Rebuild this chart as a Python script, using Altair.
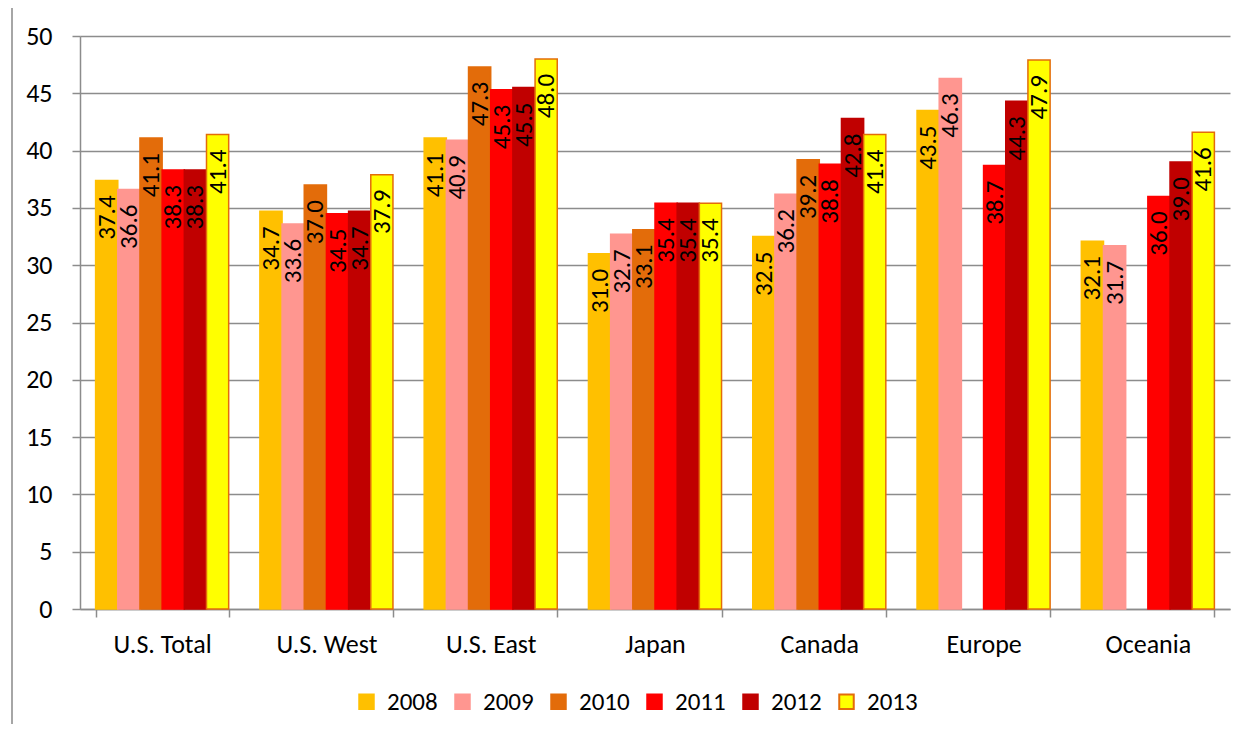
import altair as alt
import pandas as pd

categories = ["U.S. Total", "U.S. West", "U.S. East", "Japan", "Canada", "Europe", "Oceania"]
years = ["2008", "2009", "2010", "2011", "2012", "2013"]
values = {
    "2008": [37.4, 34.7, 41.1, 31.0, 32.5, 43.5, 32.1],
    "2009": [36.6, 33.6, 40.9, 32.7, 36.2, 46.3, 31.7],
    "2010": [41.1, 37.0, 47.3, 33.1, 39.2, None, None],
    "2011": [38.3, 34.5, 45.3, 35.4, 38.8, 38.7, 36.0],
    "2012": [38.3, 34.7, 45.5, 35.4, 42.8, 44.3, 39.0],
    "2013": [41.4, 37.9, 48.0, 35.4, 41.4, 47.9, 41.6],
}
fill_colors = ["#FFC000", "#FF9690", "#E36C0A", "#FF0000", "#C00000", "#FFFF00"]
stroke_colors = ["#FFC000", "#FF9690", "#E36C0A", "#FF0000", "#C00000", "#E36C0A"]

rows = []
for y in years:
    for c, v in zip(categories, values[y]):
        if v is not None:
            rows.append({"region": c, "year": y, "value": v})
df = pd.DataFrame(rows)

FONT = "Carlito"

x_enc = alt.X("region:N", sort=categories, title=None,
              scale=alt.Scale(paddingInner=0.19, paddingOuter=0.095),
              axis=alt.Axis(labelAngle=0, tickBand="extent", tickSize=8,
                            labelPadding=14, labelFontSize=26, labelColor="#000000",
                            domainColor="#8c8c8c", tickColor="#8c8c8c",
                            domainWidth=1.5, tickWidth=1.5, labelFont=FONT))
xoff = alt.XOffset("year:N", sort=years, scale=alt.Scale(domain=years, paddingInner=0, paddingOuter=0))
y_enc = alt.Y("value:Q", title=None,
              scale=alt.Scale(domain=[0, 50], nice=False),
              axis=alt.Axis(values=list(range(0, 51, 5)), tickSize=8, labelPadding=20,
                            labelFontSize=26, labelColor="#000000", labelFont=FONT,
                            gridColor="#8c8c8c", gridWidth=1.5, domainColor="#8c8c8c",
                            tickColor="#8c8c8c", domainWidth=1.5, tickWidth=1.5))

base = alt.Chart(df)

bars = base.mark_bar(strokeWidth=1.5).encode(
    x=x_enc,
    xOffset=xoff,
    y=y_enc,
    fill=alt.Fill("year:N", sort=years, title=None,
                  scale=alt.Scale(domain=years, range=fill_colors),
                  legend=alt.Legend(orient="none", legendX=274, legendY=653,
                                    direction="horizontal", symbolType="square",
                                    symbolSize=210, labelFontSize=25, labelFont=FONT,
                                    labelColor="#000000", columnPadding=12, labelOffset=8,
                                    symbolStrokeWidth=2)),
    stroke=alt.Stroke("year:N", sort=years, title=None,
                      scale=alt.Scale(domain=years, range=stroke_colors)),
)

labels = base.mark_text(angle=270, align="right", baseline="middle", dx=-15,
                        fontSize=25, font=FONT, color="#000000").encode(
    x=alt.X("region:N", sort=categories),
    xOffset=alt.XOffset("year:N", sort=years),
    y=alt.Y("value:Q"),
    text=alt.Text("value:Q", format=".1f"),
)

frame_df = pd.DataFrame({"k": [0]})
left_border = alt.Chart(frame_df).mark_rule(color="#a6a6a6", strokeWidth=2).encode(
    x=alt.value(-68), y=alt.value(-30), y2=alt.value(720))
top_border = alt.Chart(frame_df).mark_rule(color="#a6a6a6", strokeWidth=2).encode(
    x=alt.value(-68), x2=alt.value(1170), y=alt.value(-30))

chart = alt.layer(bars, labels, left_border, top_border).properties(
    width=1150, height=573,
    autosize=alt.AutoSizeParams(type="none"),
    padding={"left": 72, "top": 28, "right": 10, "bottom": 115},
).configure_view(stroke=None).configure_axis(grid=True).configure_axisX(grid=False)

chart.save("out.html", embed_options={"renderer": "svg", "actions": False})
